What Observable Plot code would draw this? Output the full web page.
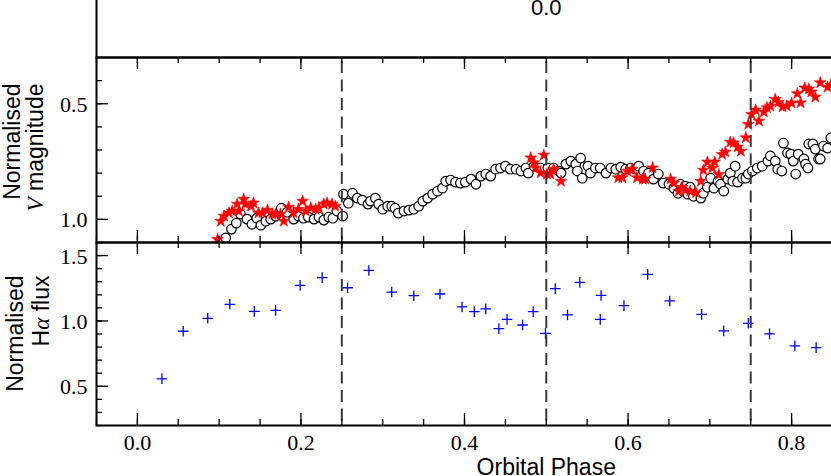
<!DOCTYPE html>
<html><head><meta charset="utf-8">
<script src="https://cdn.jsdelivr.net/npm/d3@7"></script>
<script src="https://cdn.jsdelivr.net/npm/@observablehq/plot@0.6"></script>
<style>
html,body{margin:0;padding:0;background:#fff;overflow:hidden}
#chart{position:relative;width:831px;height:476px;overflow:hidden;background:#fff}
#chart svg{position:absolute;left:0;overflow:visible;background:transparent !important;max-width:none !important}
</style></head><body><div id="chart"></div>
<script>
// ---- data (orbital phase, value) ----
const vCircles = [[0.108,1.080],[0.115,1.042],[0.121,1.016],[0.126,0.977],[0.134,0.999],[0.140,1.021],[0.146,0.995],[0.151,1.025],[0.157,1.008],[0.163,0.999],[0.169,0.986],[0.176,0.952],[0.183,0.969],[0.191,0.999],[0.197,0.986],[0.203,0.995],[0.209,0.990],[0.216,0.999],[0.222,0.990],[0.228,1.003],[0.234,0.990],[0.239,0.995],[0.244,0.964],[0.251,0.986],[0.252,0.891],[0.258,0.930],[0.263,0.887],[0.269,0.908],[0.275,0.917],[0.282,0.934],[0.285,0.921],[0.291,0.908],[0.295,0.934],[0.300,0.956],[0.306,0.943],[0.311,0.943],[0.315,0.952],[0.319,0.973],[0.326,0.964],[0.332,0.960],[0.338,0.956],[0.344,0.943],[0.349,0.921],[0.355,0.908],[0.361,0.891],[0.367,0.878],[0.373,0.865],[0.377,0.835],[0.383,0.830],[0.389,0.839],[0.395,0.843],[0.401,0.839],[0.408,0.826],[0.414,0.848],[0.420,0.813],[0.426,0.804],[0.432,0.813],[0.438,0.783],[0.444,0.778],[0.450,0.770],[0.456,0.783],[0.463,0.783],[0.469,0.791],[0.475,0.778],[0.478,0.800],[0.485,0.770],[0.493,0.778],[0.502,0.778],[0.509,0.778],[0.515,0.791],[0.518,0.800],[0.524,0.761],[0.530,0.748],[0.536,0.761],[0.538,0.791],[0.542,0.735],[0.544,0.822],[0.551,0.770],[0.554,0.800],[0.560,0.778],[0.566,0.778],[0.573,0.800],[0.579,0.778],[0.585,0.783],[0.591,0.774],[0.597,0.783],[0.603,0.778],[0.609,0.783],[0.613,0.770],[0.619,0.791],[0.625,0.800],[0.631,0.826],[0.637,0.804],[0.643,0.843],[0.650,0.848],[0.656,0.865],[0.661,0.887],[0.664,0.848],[0.667,0.878],[0.670,0.856],[0.673,0.891],[0.676,0.861],[0.680,0.900],[0.689,0.908],[0.692,0.887],[0.697,0.861],[0.701,0.822],[0.705,0.865],[0.710,0.835],[0.713,0.848],[0.717,0.878],[0.722,0.826],[0.725,0.800],[0.728,0.835],[0.731,0.770],[0.734,0.839],[0.740,0.822],[0.744,0.822],[0.747,0.804],[0.752,0.791],[0.758,0.778],[0.764,0.770],[0.771,0.748],[0.774,0.726],[0.780,0.748],[0.783,0.783],[0.788,0.791],[0.790,0.670],[0.795,0.713],[0.799,0.718],[0.802,0.748],[0.805,0.804],[0.808,0.718],[0.815,0.739],[0.817,0.761],[0.820,0.778],[0.821,0.674],[0.826,0.674],[0.829,0.696],[0.833,0.739],[0.835,0.739],[0.839,0.683],[0.844,0.692],[0.848,0.648]];

const vStars = [[0.098,1.087],[0.102,1.008],[0.106,0.986],[0.112,0.972],[0.116,0.964],[0.122,0.934],[0.124,0.964],[0.130,0.913],[0.132,0.934],[0.139,0.943],[0.142,0.929],[0.148,0.972],[0.153,0.972],[0.159,0.960],[0.165,0.977],[0.169,0.977],[0.175,0.977],[0.179,1.008],[0.185,0.947],[0.191,0.972],[0.197,0.956],[0.202,0.921],[0.206,0.964],[0.212,0.950],[0.218,0.956],[0.222,0.950],[0.228,0.934],[0.232,0.929],[0.238,0.934],[0.242,0.943],[0.481,0.734],[0.485,0.755],[0.487,0.777],[0.493,0.799],[0.497,0.722],[0.501,0.804],[0.505,0.804],[0.509,0.783],[0.518,0.835],[0.588,0.820],[0.593,0.820],[0.599,0.791],[0.605,0.783],[0.611,0.820],[0.618,0.826],[0.621,0.826],[0.630,0.777],[0.652,0.826],[0.656,0.843],[0.662,0.878],[0.666,0.861],[0.670,0.874],[0.676,0.878],[0.683,0.885],[0.689,0.835],[0.692,0.787],[0.697,0.752],[0.703,0.778],[0.706,0.752],[0.711,0.806],[0.715,0.719],[0.719,0.709],[0.725,0.666],[0.729,0.669],[0.734,0.687],[0.738,0.705],[0.744,0.647],[0.747,0.589],[0.751,0.546],[0.756,0.527],[0.760,0.575],[0.766,0.536],[0.770,0.517],[0.774,0.510],[0.780,0.481],[0.784,0.493],[0.789,0.514],[0.794,0.510],[0.800,0.497],[0.807,0.456],[0.811,0.496],[0.816,0.432],[0.821,0.436],[0.824,0.449],[0.829,0.471],[0.835,0.409],[0.844,0.428],[0.848,0.419]];

const haFlux = [[0.030,0.557],[0.056,0.921],[0.086,1.020],[0.113,1.127],[0.143,1.073],[0.169,1.081],[0.199,1.272],[0.226,1.331],[0.257,1.254],[0.283,1.386],[0.311,1.221],[0.338,1.193],[0.370,1.206],[0.397,1.107],[0.412,1.071],[0.426,1.092],[0.442,0.941],[0.452,1.012],[0.471,0.969],[0.484,1.071],[0.499,0.905],[0.511,1.247],[0.526,1.046],[0.541,1.295],[0.567,1.195],[0.566,1.012],[0.595,1.117],[0.624,1.356],[0.651,1.153],[0.690,1.050],[0.717,0.924],[0.747,0.982],[0.773,0.901],[0.804,0.809],[0.830,0.796]];

const quadraturePhases = [0.25, 0.5, 0.75];
const xTickLabels = [0, 0.2, 0.4, 0.6, 0.8];
const xMinorTicks = d3.range(-1, 18).map(i => +(i * 0.05).toFixed(2));
const magTickLabels = [0.5, 1.0];
const magMinorTicks = [0.3,0.4,0.5,0.6,0.7,0.8,0.9,1.0,1.1];
const fluxTickLabels = [0.5, 1.0, 1.5];
const fluxMinorTicks = [0.2,0.3,0.4,0.5,0.6,0.7,0.8,0.9,1.0,1.1,1.2,1.3,1.4,1.5,1.6];
const topPanelLabel = [{phase: 0.5, text: "0.0"}];
const xLabel = [{phase: 0.5, text: "Orbital Phase"}];

// ---- layout ----
const W = 836, ML = 96, MR = 4, PW = W - ML - MR;
const xDomain = [-0.05, 0.85];
const serif = "Liberation Serif";
const sans = "Liberation Sans";
const chart = document.getElementById("chart");
const fmt = d3.format(".1f");

function toObj(arr){ return arr.map(([p, v]) => ({p, v})); }

function frameTicks(H, yMinor, yMajor) {
  const st = {stroke: "black", strokeWidth: 1.3};
  return [
    Plot.ruleX(xMinorTicks, {x: d => d, insetTop: H - 6, ...st}),
    Plot.ruleX(xMinorTicks, {x: d => d, insetBottom: H - 6, ...st}),
    Plot.ruleX(xTickLabels, {x: d => d, insetTop: H - 12, ...st}),
    Plot.ruleX(xTickLabels, {x: d => d, insetBottom: H - 12, ...st}),
    Plot.ruleY(yMinor, {y: d => d, insetRight: PW - 6, ...st}),
    Plot.ruleY(yMajor, {y: d => d, insetRight: PW - 12, ...st})
  ];
}

function yTickText(values) {
  return Plot.text(values, {y: d => d, text: d => fmt(d), frameAnchor: "left", dx: -9, dy: 1,
    textAnchor: "end", fontSize: 22, fontFamily: serif, fill: "black"});
}

function ylabel(lines, x1, x2, yTop, panelTop) {
  return [
    Plot.text([lines[0]], {frameAnchor: "top-left", dx: x1 - ML, dy: yTop - panelTop, rotate: -90,
      textAnchor: "end", lineAnchor: "bottom", fontSize: 23, fontFamily: sans, fill: "black"}),
    Plot.text([lines[1]], {frameAnchor: "top-left", dx: x2 - ML, dy: yTop - panelTop, rotate: -90,
      textAnchor: "end", lineAnchor: "bottom", fontSize: 23, fontFamily: sans, fill: "black"})
  ];
}

function place(svg, top, h) {
  svg.style.top = top + "px";
  svg.style.width = W + "px";
  svg.style.height = h + "px";
  chart.appendChild(svg);
}

// ---- top panel (cropped) ----
const topPlot = Plot.plot({
  width: W, height: 118, marginLeft: ML, marginRight: MR, marginTop: 2, marginBottom: 1,
  x: {domain: xDomain, axis: null},
  y: {domain: [0, 1], axis: null},
  marks: [
    Plot.frame({stroke: "black", strokeWidth: 2}),
    Plot.text(topPanelLabel, {x: "phase", text: "text", frameAnchor: "bottom", dy: -42.5,
      lineAnchor: "bottom", fontSize: 22, fontFamily: sans, fill: "black"})
  ]
});
place(topPlot, -60, 118);

// ---- middle panel: V magnitude ----
const Hm = 185;
const midPlot = Plot.plot({
  width: W, height: Hm + 4, marginLeft: ML, marginRight: MR, marginTop: 2, marginBottom: 2,
  x: {domain: xDomain, axis: null},
  y: {domain: [0.3, 1.1], reverse: true, axis: null},
  marks: [
    Plot.dot(toObj(vCircles), {x: "p", y: "v", r: 4.8, stroke: "black", strokeWidth: 1.2, fill: "white", clip: true}),
    Plot.dot(toObj(vStars), {x: "p", y: "v", symbol: "star", r: 3.7, fill: "red", stroke: "red", strokeWidth: 0.6, clip: true}),
    Plot.ruleX(quadraturePhases, {stroke: "#3a3a3a", strokeWidth: 2, strokeDasharray: "12,6.5", strokeDashoffset: -4}),
    ...frameTicks(Hm, magMinorTicks, magTickLabels),
    yTickText(magTickLabels),
    Plot.frame({stroke: "black", strokeWidth: 2}),
    ...ylabel(["Normalised", "V magnitude"], 19, 42, 83, 57)
  ]
});
place(midPlot, 55, Hm + 4);

// ---- bottom panel: H-alpha flux ----
const Hb = 183;
const botPlot = Plot.plot({
  width: W, height: Hb + 53, marginLeft: ML, marginRight: MR, marginTop: 2, marginBottom: 51,
  x: {domain: xDomain, axis: null},
  y: {domain: [0.2, 1.6], axis: null},
  marks: [
    Plot.dot(toObj(haFlux), {x: "p", y: "v", symbol: "plus", r: 3.5, stroke: "blue", strokeWidth: 1.3, clip: true}),
    Plot.ruleX(quadraturePhases, {stroke: "#3a3a3a", strokeWidth: 2, strokeDasharray: "12,6.5", strokeDashoffset: 0}),
    ...frameTicks(Hb, fluxMinorTicks, fluxTickLabels),
    yTickText(fluxTickLabels),
    Plot.text(xTickLabels, {x: d => d, text: d => fmt(d), frameAnchor: "bottom", dy: 24, lineAnchor: "bottom",
      fontSize: 22, fontFamily: serif, fill: "black"}),
    Plot.frame({stroke: "black", strokeWidth: 2}),
    Plot.text(xLabel, {x: "phase", text: "text", frameAnchor: "bottom", dy: 49, lineAnchor: "bottom",
      fontSize: 23, fontFamily: sans, fill: "black"}),
    ...ylabel(["Normalised", "Hα flux"], 22, 48, 275, 242)
  ]
});
place(botPlot, 240, Hb + 53);

// ---- math-style glyphs (italic serif V and alpha) ----
function mathify(svg) {
  d3.select(svg).selectAll("text").each(function () {
    const t = this.textContent;
    const s = d3.select(this);
    if (t === "V magnitude") {
      s.text(null);
      s.append("tspan").attr("font-family", serif).attr("font-style", "italic").text("V");
      s.append("tspan").text(" magnitude");
    } else if (t === "Hα flux") {
      s.text(null);
      s.append("tspan").text("H");
      s.append("tspan").attr("font-family", serif).attr("font-style", "italic").text("α");
      s.append("tspan").text(" flux");
    }
  });
}
mathify(midPlot);
mathify(botPlot);
</script></body></html>
